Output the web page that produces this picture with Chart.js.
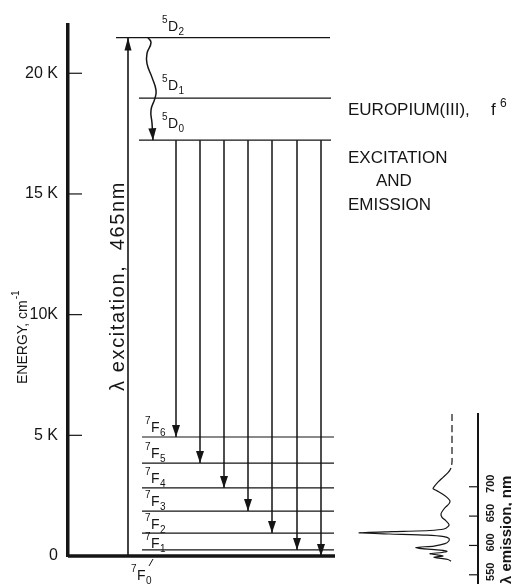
<!DOCTYPE html>
<html>
<head>
<meta charset="utf-8">
<script src="https://cdn.jsdelivr.net/npm/chart.js@4.4.1/dist/chart.umd.min.js"></script>
<style>
  html, body { margin: 0; padding: 0; background: #fff; }
  #wrap { position: relative; width: 512px; height: 585px; overflow: hidden; }
  #levels { position: absolute; left: 0; top: 0; }
  #spectrum { position: absolute; left: 340px; top: 400px; }
</style>
</head>
<body>
<div id="wrap">
  <canvas id="levels" width="512" height="585"></canvas>
  <canvas id="spectrum" width="172" height="185"></canvas>
</div>
<script>
const FONT = "'Liberation Sans', Arial, sans-serif";
const INK = "#151515";

// Eu(III) levels, energy in cm-1 (x = schematic position of each line)
const levelTerm = ["D", "D", "D", "F", "F", "F", "F", "F", "F", "F"];
const levelSup = ["5", "5", "5", "7", "7", "7", "7", "7", "7", "7"];
const levelSub = ["2", "1", "0", "6", "5", "4", "3", "2", "1", "0"];
const levelEnergy = [21480, 18970, 17230, 4930, 3850, 2820, 1860, 950, 250, 0];
const levelFrom = [48, 71, 71, 74, 74, 74, 74, 74, 74, 0];
const levelTo = [262, 263, 263, 266, 266, 266, 266, 266, 266, 267];

const energyTicks = [0, 5000, 10000, 15000, 20000];
const energyTickLabels = ["0", "5 K", "10K", "15 K", "20 K"];

// excitation 7F0 -> 5D2
const excitationX = 60;
// relaxation 5D2 -> 5D0 (wavy arrow)
const relaxX = [80, 83, 79, 79, 84, 88, 87, 83, 84, 85];
const relaxE = [21480, 21270, 20820, 20400, 19830, 19300, 18970, 18470, 17940, 17230];
// emission 5D0 -> 7F6 ... 7F0
const emissionX = [108, 132, 156, 180, 204, 229, 253];
const emissionTo = ["6", "5", "4", "3", "2", "1", "0"];

// emission spectrum (wavelength nm, relative intensity)
const spectrumNm = [824, 790, 760, 742, 732, 724, 716, 708, 700, 697, 693, 688, 682, 676, 671, 666, 660, 654, 648, 642, 636, 632, 628, 625.5, 623.5, 621.5, 619.5, 617.5, 615, 612, 608, 603, 599, 596.5, 594.5, 592, 590, 588, 586, 584, 582, 580, 578, 576, 573];
const spectrumI = [0, 0, 0, 0, 1, 4, 9, 14, 18, 19, 15, 10, 5, 2, 3, 6, 9, 11, 10, 6, 3, 4, 8, 22, 60, 93, 62, 25, 8, 3, 3, 7, 18, 36, 30, 12, 5, 10, 22, 15, 9, 18, 11, 4, 1];
const spectrumTicks = [550, 600, 650, 700];

function drawArrowHead(ctx, from, to, len, half) {
  const ang = Math.atan2(to.y - from.y, to.x - from.x);
  ctx.save();
  ctx.translate(to.x, to.y);
  ctx.rotate(ang);
  ctx.beginPath();
  ctx.moveTo(0, 0);
  ctx.lineTo(-len, -half);
  ctx.lineTo(-len, half);
  ctx.closePath();
  ctx.fillStyle = INK;
  ctx.fill();
  ctx.restore();
}

// superscript + letter + subscript, e.g. 5D2
function drawTerm(ctx, x, y, sup, base, sub, size) {
  ctx.textAlign = "left";
  ctx.textBaseline = "alphabetic";
  ctx.font = `${Math.round(size * 0.68)}px ${FONT}`;
  const sw = ctx.measureText(sup).width;
  ctx.fillText(sup, x - sw - 0.5, y - size * 0.55);
  ctx.font = `${size}px ${FONT}`;
  const bw = ctx.measureText(base).width;
  ctx.font = `${Math.round(size * 0.68)}px ${FONT}`;
  ctx.fillText(sub, x + bw + 0.5, y + size * 0.3);
  ctx.font = `${size}px ${FONT}`;
  ctx.fillText(base, x, y);
}

const levelPlugin = {
  id: "levelDecor",
  afterDatasetsDraw(chart) {
    const ctx = chart.ctx;
    const xs = chart.scales.x;
    const ys = chart.scales.y;
    ctx.save();
    ctx.fillStyle = INK;
    ctx.strokeStyle = INK;

    // inward tick marks on energy axis
    ctx.lineWidth = 1.2;
    energyTicks.forEach((v) => {
      if (v === 0) return;
      const py = ys.getPixelForValue(v);
      ctx.beginPath();
      ctx.moveTo(chart.chartArea.left, py);
      ctx.lineTo(chart.chartArea.left + 14, py);
      ctx.stroke();
    });

    // arrowheads
    chart.data.datasets.forEach((ds, i) => {
      if (!ds.arrowHead) return;
      const pts = chart.getDatasetMeta(i).data;
      const a = pts[pts.length - 2];
      const b = pts[pts.length - 1];
      drawArrowHead(ctx, a, b, ds.arrowHead[0], ds.arrowHead[1]);
    });

    // level labels
    const lift = [7, 8, 12, 5, 5, 5, 5, 4, 2, -24];
    levelTerm.forEach((t, i) => {
      let lx = t === "D" ? 100 : 83;
      if (i === levelTerm.length - 1) lx = 69;
      const px = xs.getPixelForValue(lx);
      const py = ys.getPixelForValue(levelEnergy[i]) - lift[i];
      drawTerm(ctx, px, py, levelSup[i], t, levelSub[i], 14);
    });
    // leader for 7F0
    const bx = xs.getPixelForValue(81);
    const by = ys.getPixelForValue(0);
    ctx.lineWidth = 1;
    ctx.beginPath();
    ctx.moveTo(bx, by + 10);
    ctx.lineTo(bx + 4, by + 3);
    ctx.stroke();

    // axis title
    ctx.save();
    ctx.translate(27, 384);
    ctx.rotate(-Math.PI / 2);
    ctx.textAlign = "left";
    ctx.textBaseline = "alphabetic";
    ctx.font = `14px ${FONT}`;
    const t1 = "ENERGY, cm";
    ctx.fillText(t1, 0, 0);
    const w1 = ctx.measureText(t1).width;
    ctx.font = `10px ${FONT}`;
    ctx.fillText("-1", w1 + 1, -8);
    ctx.restore();

    // excitation label
    ctx.save();
    ctx.translate(124, 286);
    ctx.rotate(-Math.PI / 2);
    ctx.textAlign = "center";
    ctx.textBaseline = "alphabetic";
    ctx.font = `20px ${FONT}`;
    ctx.letterSpacing = "1.6px";
    ctx.fillText("\u03BB excitation,  465nm", 0, 0);
    ctx.restore();

    // title block
    ctx.textAlign = "left";
    ctx.textBaseline = "alphabetic";
    ctx.font = `17px ${FONT}`;
    ctx.fillText("EUROPIUM(III),", 348, 115);
    ctx.fillText("f", 491, 115);
    ctx.font = `12px ${FONT}`;
    ctx.fillText("6", 500, 107);
    ctx.font = `17px ${FONT}`;
    ctx.fillText("EXCITATION", 348, 163);
    ctx.fillText("AND", 376, 186);
    ctx.fillText("EMISSION", 348, 210);
    ctx.restore();
  },
};

function renderLevelDiagram(canvasId) {
  const canvas = document.getElementById(canvasId);
  const ctx = canvas.getContext("2d");

  const datasets = [];
  levelEnergy.forEach((e, i) => {
    datasets.push({
      data: [{ x: levelFrom[i], y: e }, { x: levelTo[i], y: e }],
      borderWidth: e === 0 ? 3.5 : 1.2,
    });
  });
  datasets.push({
    data: [{ x: excitationX, y: 0 }, { x: excitationX, y: levelEnergy[0] }],
    borderWidth: 1.6,
    arrowHead: [13, 3.5],
  });
  datasets.push({
    data: relaxX.map((x, i) => ({ x, y: relaxE[i] })),
    borderWidth: 1.5,
    tension: 0.5,
    arrowHead: [12, 4],
  });
  emissionX.forEach((x, i) => {
    const target = levelEnergy[levelSub.lastIndexOf(emissionTo[i])];
    datasets.push({
      data: [{ x, y: levelEnergy[2] }, { x, y: target }],
      borderWidth: 1.5,
      arrowHead: [12, 4],
    });
  });
  datasets.forEach((d) => {
    d.borderColor = INK;
    d.pointRadius = 0;
    d.clip = false;
    d.fill = false;
  });

  return new Chart(ctx, {
    type: "line",
    data: { datasets },
    options: {
      responsive: false,
      animation: false,
      devicePixelRatio: 1,
      layout: { padding: { left: 0, right: 0, top: 25, bottom: 29 } },
      plugins: { legend: { display: false }, tooltip: { enabled: false } },
      scales: {
        x: { type: "linear", min: 0, max: 444, display: false },
        y: {
          type: "linear",
          min: 0,
          max: 22000,
          afterBuildTicks: (s) => { s.ticks = energyTicks.map((v) => ({ value: v })); },
          afterFit: (s) => { s.width = 68; },
          grid: { display: false, drawTicks: false },
          border: { display: true, width: 3.5, color: INK },
          ticks: {
            padding: 10,
            color: INK,
            font: { family: FONT, size: 16 },
            callback: (v, i) => energyTickLabels[i],
          },
        },
      },
    },
    plugins: [levelPlugin],
  });
}

const spectrumPlugin = {
  id: "spectrumDecor",
  afterDraw(chart) {
    const ctx = chart.ctx;
    const ys = chart.scales.y;
    const ax = chart.chartArea.right;
    ctx.save();
    ctx.strokeStyle = INK;
    ctx.fillStyle = INK;
    ctx.lineWidth = 1.2;
    spectrumTicks.forEach((v) => {
      const py = ys.getPixelForValue(v);
      ctx.beginPath();
      ctx.moveTo(ax - 9, py);
      ctx.lineTo(ax, py);
      ctx.stroke();
      ctx.save();
      ctx.translate(ax + 16, py - 3);
      ctx.rotate(-Math.PI / 2);
      ctx.textAlign = "center";
      ctx.textBaseline = "alphabetic";
      ctx.font = `bold 11px ${FONT}`;
      ctx.fillText(String(v), 0, 0);
      ctx.restore();
    });
    ctx.save();
    ctx.translate(ax + 33, 184);
    ctx.rotate(-Math.PI / 2);
    ctx.textAlign = "left";
    ctx.textBaseline = "alphabetic";
    ctx.font = `bold 15px ${FONT}`;
    ctx.fillText("\u03BB emission, nm", 0, 0);
    ctx.restore();
    ctx.restore();
  },
};

function renderSpectrum(canvasId) {
  const canvas = document.getElementById(canvasId);
  const ctx = canvas.getContext("2d");
  const points = spectrumNm.map((nm, i) => ({ x: spectrumI[i], y: nm }));
  return new Chart(ctx, {
    type: "line",
    data: {
      datasets: [{
        data: points,
        borderColor: INK,
        borderWidth: 1.2,
        pointRadius: 0,
        tension: 0.2,
        fill: false,
        segment: { borderDash: (c) => (c.p0.parsed.y >= 742 ? [7, 4] : undefined) },
      }],
    },
    options: {
      responsive: false,
      animation: false,
      devicePixelRatio: 1,
      layout: { padding: { left: 0, right: 34, top: 14, bottom: 2 } },
      plugins: { legend: { display: false }, tooltip: { enabled: false } },
      scales: {
        x: { type: "linear", reverse: true, min: -26, max: 112, display: false },
        y: {
          type: "linear",
          position: "right",
          min: 536,
          max: 824,
          afterFit: (s) => { s.width = 0; },
          grid: { display: false, drawTicks: false },
          border: { display: true, width: 2, color: INK },
          ticks: { display: false },
        },
      },
    },
    plugins: [spectrumPlugin],
  });
}

renderLevelDiagram("levels");
renderSpectrum("spectrum");
</script>
</body>
</html>
